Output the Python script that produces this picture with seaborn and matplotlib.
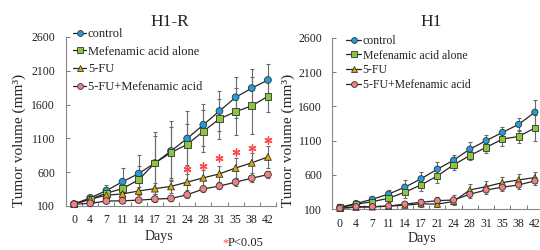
import numpy as np
import pandas as pd
import seaborn as sns
import matplotlib.pyplot as plt
from matplotlib.lines import Line2D

sns.set_style("ticks")
plt.rcParams["font.family"] = ["Liberation Serif", "DejaVu Serif"]
plt.rcParams["text.color"] = "#222222"

# data (tumor volume, mm3)
days = [0, 4, 7, 11, 14, 17, 21, 24, 28, 31, 35, 38, 42]
groups = ["control", "Mefenamic acid alone", "5-FU", "5-FU+Mefenamic acid"]

h1r_control = [130, 220, 328, 459, 580, 735, 914, 1098, 1301, 1505, 1708, 1844, 1964]
h1r_mef = [130, 200, 290, 357, 488, 735, 889, 1011, 1204, 1389, 1495, 1582, 1723]
h1r_fu = [130, 200, 260, 279, 322, 357, 390, 453, 517, 575, 662, 739, 826]
h1r_combo = [125, 140, 173, 177, 187, 202, 212, 265, 352, 395, 453, 511, 565]

h1r_control_sd = [15, 50, 80, 200, 280, 460, 450, 400, 310, 290, 300, 280, 230]
h1r_mef_sd = [15, 40, 60, 120, 200, 400, 380, 300, 310, 300, 350, 420, 230]
h1r_fu_sd = [15, 30, 40, 60, 60, 80, 100, 120, 120, 120, 150, 150, 160]
h1r_combo_sd = [15, 20, 30, 30, 30, 40, 40, 40, 40, 40, 50, 50, 50]

# significance marks on H1-R
sig_days = [24, 28, 31, 35, 38, 42]
sig_vals = [642, 696, 812, 904, 962, 1078]

h1_control = [130, 185, 246, 322, 422, 545, 685, 815, 977, 1099, 1220, 1337, 1515]
h1_mef = [125, 173, 211, 261, 349, 455, 587, 748, 884, 1001, 1123, 1161, 1284]
h1_fu = [115, 130, 135, 145, 160, 180, 175, 215, 382, 430, 489, 528, 562]
h1_combo = [115, 138, 138, 148, 175, 202, 226, 236, 319, 382, 422, 455, 514]

h1_control_sd = [20, 30, 40, 60, 100, 100, 110, 70, 110, 90, 80, 90, 180]
h1_mef_sd = [20, 30, 40, 50, 80, 90, 100, 80, 70, 80, 100, 100, 195]
h1_fu_sd = [20, 20, 20, 20, 30, 40, 40, 40, 80, 80, 80, 80, 80]
h1_combo_sd = [20, 20, 20, 30, 30, 50, 60, 70, 50, 60, 60, 60, 60]

colors = {"control": "#1e9fdc", "Mefenamic acid alone": "#8cc63e",
          "5-FU": "#e0a800", "5-FU+Mefenamic acid": "#f07f86"}
markers = {"control": "o", "Mefenamic acid alone": "s",
           "5-FU": "^", "5-FU+Mefenamic acid": "o"}


def make_df(vals, sds):
    rows = []
    for g, v, e in zip(groups, vals, sds):
        for i, d in enumerate(days):
            rows.append({"pos": i, "day": d, "group": g, "volume": v[i], "sd": e[i]})
    return pd.DataFrame(rows)


def draw_panel(ax, df, title, title_xy, ylab_xy, xlab_xy, msize, tick_pad):
    for g in groups:
        sub = df[df["group"] == g]
        ax.errorbar(sub["pos"], sub["volume"], yerr=sub["sd"], fmt="none",
                    ecolor="#6a6a6a", elinewidth=0.8, capsize=1.6, capthick=0.8,
                    zorder=1, clip_on=False)
    sns.lineplot(data=df, x="pos", y="volume", hue="group",
                 palette={g: "#262626" for g in groups}, linewidth=0.9,
                 legend=False, sort=False, errorbar=None, ax=ax, zorder=2)
    sns.scatterplot(data=df, x="pos", y="volume", hue="group", style="group",
                    markers=markers, palette=colors, s=msize, edgecolor="#333333",
                    linewidth=0.6, legend=False, ax=ax, zorder=3, clip_on=False)

    ax.set_xlim(-0.5, 12.5)
    ax.set_ylim(100, 2600)
    ax.set_yticks([100, 600, 1100, 1600, 2100, 2600])
    ax.set_xticks(range(len(days)))
    ax.set_xticklabels([str(d) for d in days])
    ax.set_xticks(np.arange(-0.5, 13, 1), minor=True)
    ax.tick_params(axis="x", which="major", length=0, pad=6, labelsize=8.5,
                   colors="#222222")
    ax.tick_params(axis="x", which="minor", direction="in", length=3,
                   width=0.7, color="#777777")
    ax.tick_params(axis="y", direction="in", length=3, width=0.7,
                   color="#777777", pad=tick_pad, labelsize=8.5, labelcolor="#222222")
    sns.despine(ax=ax)
    for s in ["left", "bottom"]:
        ax.spines[s].set_color("#888888")
        ax.spines[s].set_linewidth(0.8)

    ax.set_ylabel("Tumor volume (mm³)", fontsize=11, va="center")
    ax.yaxis.set_label_coords(*ylab_xy)
    ax.set_xlabel("Days", fontsize=10, va="center")
    ax.xaxis.set_label_coords(*xlab_xy)
    ax.text(title_xy[0], title_xy[1], title, transform=ax.transAxes,
            ha="center", va="center", fontsize=12.5)


fig = plt.figure(figsize=(5.4, 2.5), dpi=100)
ax1 = fig.add_axes([66 / 540, 44 / 250, 210 / 540, 169 / 250])
ax2 = fig.add_axes([331.7 / 540, 40.7 / 250, 211.3 / 540, 171.6 / 250])

df1 = make_df([h1r_control, h1r_mef, h1r_fu, h1r_combo],
              [h1r_control_sd, h1r_mef_sd, h1r_fu_sd, h1r_combo_sd])
df2 = make_df([h1_control, h1_mef, h1_fu, h1_combo],
              [h1_control_sd, h1_mef_sd, h1_fu_sd, h1_combo_sd])

draw_panel(ax1, df1, "H1-R", (0.495, 1.089), (-0.224, 0.385), (0.443, -0.183), 24, 8)
draw_panel(ax2, df2, "H1", (0.469, 1.091), (-0.207, 0.404), (0.427, -0.168), 20, 7)

sig_pos = [days.index(d) for d in sig_days]
ax1.scatter(sig_pos, sig_vals, marker=(6, 2, 0), s=26, color="#ff4a4a",
            linewidths=1.0, zorder=4)

handles = [Line2D([0], [0], color="#262626", lw=0.9, marker=markers[g],
                  markerfacecolor=colors[g], markeredgecolor="#333333",
                  markeredgewidth=0.6, markersize=4.2) for g in groups]
fig.legend(handles, groups, loc="upper left", bbox_to_anchor=(73 / 540, 1 - 28 / 250),
           frameon=False, fontsize=9, handlelength=1.05, handletextpad=0.15,
           labelspacing=0.46, borderpad=0, borderaxespad=0)
fig.legend(handles, groups, loc="upper left", bbox_to_anchor=(346 / 540, 1 - 35 / 250),
           frameon=False, fontsize=8.5, handlelength=1.3, handletextpad=0.1,
           labelspacing=0.22, borderpad=0, borderaxespad=0)

fig.text(222 / 540, 1 - 243 / 250, "*", color="#ff4a4a", fontsize=9, va="center")
fig.text(228 / 540, 1 - 243 / 250, "P<0.05", fontsize=9, va="center")

fig.savefig("out.png", dpi=100)
